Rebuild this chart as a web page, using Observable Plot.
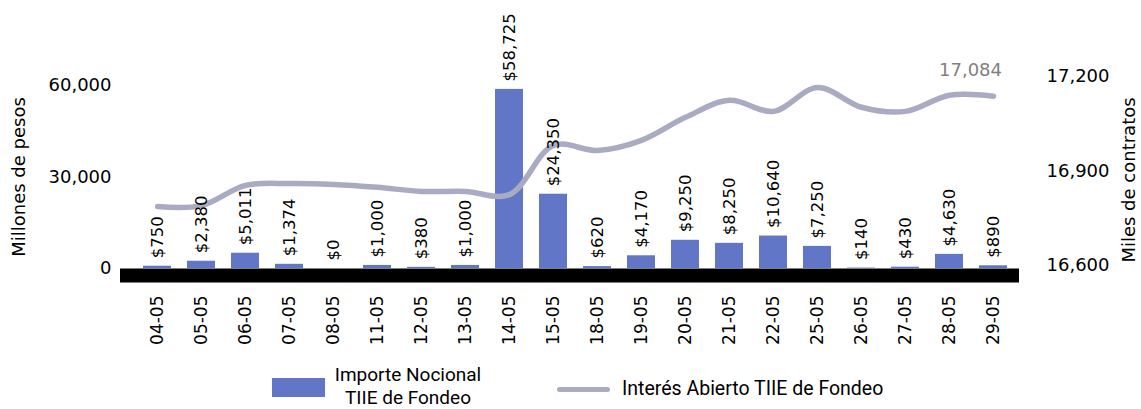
<!DOCTYPE html>
<html>
<head>
<meta charset="utf-8">
<script src="https://cdn.jsdelivr.net/npm/d3@7"></script>
<script src="https://cdn.jsdelivr.net/npm/@observablehq/plot@0.6"></script>
<style>
  html, body { margin: 0; padding: 0; background: #fff; }
  #wrap { position: relative; width: 1141px; height: 409px; overflow: hidden; font-family: "DejaVu Sans", sans-serif; }
  #chart { position: absolute; left: 0; top: 0; }
  .ytitle { position: absolute; font-size: 18px; color: #000; white-space: nowrap; transform: translate(-50%, -50%) rotate(-90deg); }
  .leg { position: absolute; font-family: Roboto, sans-serif; font-size: 19px; color: #000; white-space: nowrap; }
</style>
</head>
<body>
<div id="wrap">
  <div id="chart"></div>
  <div class="ytitle" style="left:18px; top:177px;">Millones de pesos</div>
  <div class="ytitle" style="left:1128px; top:180px;">Miles de contratos</div>
  <div class="leg" style="left:272px; top:378px; width:53px; height:19px; background:#6176c6;"></div>
  <div class="leg" style="left:328px; top:364px; width:160px; text-align:center; line-height:22.5px;">Importe Nocional<br>TIIE de Fondeo</div>
  <div class="leg" style="left:557px; top:387px; width:53px; height:5px; border-radius:3px; background:#a9abc3;"></div>
  <div class="leg" style="left:622px; top:377px; line-height:23px; font-size:19.5px;">Interés Abierto TIIE de Fondeo</div>
</div>
<script>
const fechas = ["04-05","05-05","06-05","07-05","08-05","11-05","12-05","13-05","14-05","15-05",
                "18-05","19-05","20-05","21-05","22-05","25-05","26-05","27-05","28-05","29-05"];
const importe = [750, 2380, 5011, 1374, 0, 1000, 380, 1000, 58725, 24350,
                 620, 4170, 9250, 8250, 10640, 7250, 140, 430, 4630, 890];
const interes = [16787, 16790, 16854, 16860, 16857, 16848, 16835, 16835, 16825, 16981,
                 16965, 16997, 17070, 17124, 17089, 17165, 17102, 17089, 17140, 17137];
const ticksIzq = [0, 30000, 60000];
const ticksDer = [16600, 16900, 17200];
const etiquetaFinal = "17,084";

const data = fechas.map((f, i) => ({fecha: f, importe: importe[i], interes: interes[i]}));
// map right-axis units (contracts) onto the left-axis scale
const toLeft = d3.scaleLinear().domain([16600, 17200]).range([984, 62990]);
const fmt = d3.format(",");

const chart = Plot.plot({
  width: 1141,
  height: 360,
  marginLeft: 120,
  marginRight: 122,
  marginTop: 10,
  marginBottom: 92,
  style: {fontFamily: "DejaVu Sans, sans-serif", fontSize: "18px", color: "#000", background: "#fff"},
  x: {type: "band", domain: fechas, range: [132.9, 1017.1], paddingInner: 0.36, paddingOuter: 0.18},
  y: {domain: [0, 60000], range: [268, 85]},
  marks: [
    Plot.barY(data, {x: "fecha", y: "importe", fill: "#6176c6"}),
    Plot.ruleY([0], {stroke: "#000", strokeWidth: 14, dy: 7}),
    Plot.line(data, {x: "fecha", y: d => toLeft(d.interes), stroke: "#a9abc3", strokeWidth: 5.5,
                     curve: "catmull-rom", strokeLinecap: "round"}),
    Plot.text(data, {x: "fecha", y: "importe", text: d => "$" + fmt(d.importe), rotate: -90,
                     textAnchor: "start", dy: -8, fontSize: 16.5, fill: "#000"}),
    Plot.text([data[data.length - 1]], {x: "fecha", y: d => toLeft(d.interes), text: () => etiquetaFinal,
                     dx: -23, dy: -26, fill: "#7f7f7f", fontSize: 18}),
    Plot.axisX({tickSize: 0, tickPadding: 27, tickRotate: -90, fontSize: 17, label: null}),
    Plot.axisY(ticksIzq, {anchor: "left", tickSize: 0, tickPadding: 9, tickFormat: fmt, label: null, fontSize: 18}),
    Plot.axisY(ticksDer.map(toLeft), {anchor: "right", tickSize: 0, tickPadding: 27, label: null, fontSize: 18,
                     tickFormat: d => fmt(Math.round(toLeft.invert(d)))})
  ]
});
document.getElementById("chart").appendChild(chart);
</script>
</body>
</html>
